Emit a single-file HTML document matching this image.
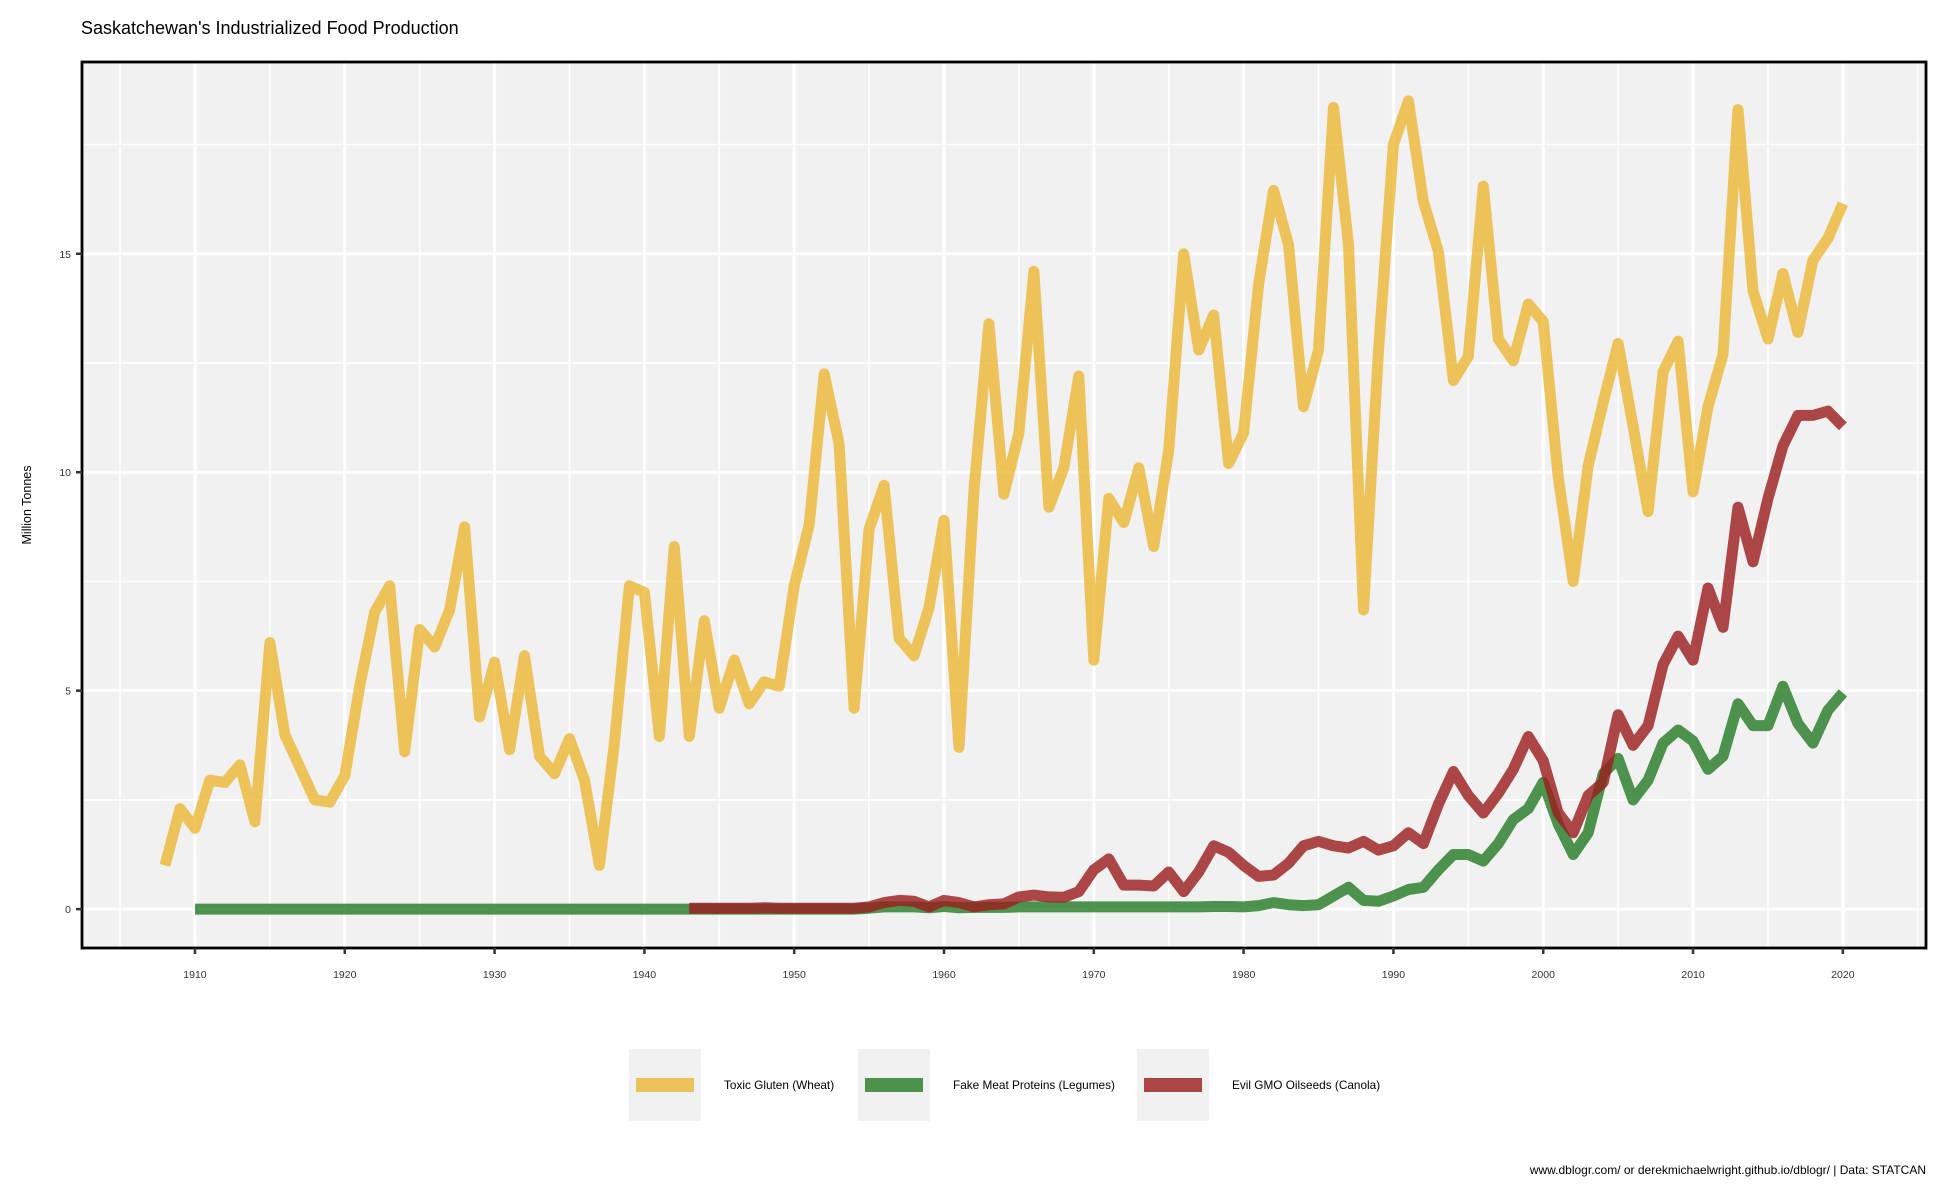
<!DOCTYPE html>
<html><head><meta charset="utf-8"><style>
html,body{margin:0;padding:0;background:#fff;}
svg{display:block;font-family:"Liberation Sans",sans-serif;}
.nar{font-family:"Liberation Sans Narrow","Liberation Sans",sans-serif;}
</style></head><body>
<svg id="chart" width="1950" height="1200" viewBox="0 0 1950 1200" xmlns="http://www.w3.org/2000/svg">
<text x="81" y="34" font-size="18" fill="#000">Saskatchewan's Industrialized Food Production</text>
<g id="plot"></g>
<text transform="translate(31,505) rotate(-90)" text-anchor="middle" font-size="12.5" fill="#000">Million Tonnes</text>
<g id="legend"></g>
<text class="nar" x="1926" y="1174" text-anchor="end" font-size="12" fill="#000">www.dblogr.com/ or derekmichaelwright.github.io/dblogr/ | Data: STATCAN</text>
</svg>
<script>
const years = [];
for (let y = 1908; y <= 2020; y++) years.push(y);
const wheat = [1.0,2.3,1.85,2.95,2.9,3.3,2.0,6.1,4.0,3.25,2.5,2.45,3.05,5.1,6.8,7.4,3.6,6.4,6.0,6.85,8.75,4.4,5.65,3.65,5.8,3.5,3.1,3.9,2.95,1.0,3.8,7.4,7.25,3.95,8.3,3.95,6.6,4.6,5.7,4.7,5.2,5.1,7.4,8.8,12.25,10.65,4.6,8.7,9.7,6.2,5.8,6.9,8.9,3.7,9.6,13.4,9.5,10.9,14.6,9.2,10.1,12.2,5.7,9.4,8.85,10.1,8.3,10.5,15.0,12.8,13.6,10.2,10.9,14.3,16.45,15.2,11.5,12.8,18.35,15.2,6.85,12.75,17.5,18.5,16.2,15.05,12.1,12.65,16.55,13.05,12.55,13.85,13.45,9.9,7.5,10.15,11.6,12.95,11.05,9.1,12.3,13.0,9.55,11.5,12.7,18.3,14.15,13.05,14.55,13.2,14.85,15.35,16.15];
const legumeYears = [];
for (let y = 1910; y <= 2020; y++) legumeYears.push(y);
const legumes = [0,0,0,0,0,0,0,0,0,0, 0,0,0,0,0,0,0,0,0,0, 0,0,0,0,0,0,0,0,0,0, 0,0,0,0,0,0,0,0,0,0, 0,0,0,0,0,0.02,0.05,0.05,0.05,0.03, 0.06,0.03,0.04,0.04,0.04,0.05,0.05,0.05,0.05,0.05, 0.05,0.05,0.05,0.05,0.05,0.05,0.05,0.05,0.06,0.06, 0.05,0.08,0.15,0.1,0.08,0.1,0.3,0.5,0.2,0.18, 0.3,0.45,0.5,0.9,1.25,1.25,1.1,1.5,2.05,2.3, 2.9,1.95,1.25,1.75,3.1,3.45,2.5,2.95,3.8,4.1, 3.85,3.2,3.5,4.7,4.2,4.2,5.1,4.25,3.8,4.55, 4.95];
const canolaYears = [];
for (let y = 1943; y <= 2020; y++) canolaYears.push(y);
const canola = [0.02,0.02,0.02,0.02,0.02,0.03,0.02,0.02,0.02,0.02,0.02,0.02,0.05,0.15,0.2,0.18,0.05,0.2,0.15,0.05,0.1,0.12,0.28,0.32,0.28,0.27,0.4,0.9,1.15,0.55,0.55,0.53,0.85,0.4,0.85,1.45,1.3,1.0,0.75,0.78,1.05,1.45,1.55,1.45,1.4,1.55,1.35,1.45,1.75,1.5,2.4,3.15,2.6,2.2,2.65,3.2,3.95,3.4,2.2,1.75,2.6,2.9,4.45,3.75,4.2,5.6,6.25,5.7,7.35,6.45,9.2,7.95,9.4,10.6,11.3,11.3,11.4,11.05];
const xTicks = [1910,1920,1930,1940,1950,1960,1970,1980,1990,2000,2010,2020];
const yTicks = [0,5,10,15];

const L=82,R=1926,T=62,B=948;
const xMin=1902.46,xMax=2025.55,yMin=-0.89,yMax=19.39;
const X=v=>L+(v-xMin)/(xMax-xMin)*(R-L);
const Y=v=>B-(v-yMin)/(yMax-yMin)*(B-T);
const NS="http://www.w3.org/2000/svg";
const plot=document.getElementById('plot');
function mk(tag,attrs,parent){const e=document.createElementNS(NS,tag);for(const k in attrs)e.setAttribute(k,attrs[k]);parent.appendChild(e);return e;}

const bg=mk('rect',{x:L,y:T,width:R-L,height:B-T,fill:'#f1f1f1'},plot);


for(let v=1905;v<=2025;v+=10){const g=mk('line',{x1:X(v),x2:X(v),y1:T,y2:B,stroke:'#fff','stroke-width':1.6},plot);

}
for(const v of [2.5,7.5,12.5,17.5]){const g=mk('line',{x1:L,x2:R,y1:Y(v),y2:Y(v),stroke:'#fff','stroke-width':1.6},plot);

}
for(const v of xTicks){const g=mk('line',{x1:X(v),x2:X(v),y1:T,y2:B,stroke:'#fff','stroke-width':3},plot);

}
for(const v of yTicks){const g=mk('line',{x1:L,x2:R,y1:Y(v),y2:Y(v),stroke:'#fff','stroke-width':3},plot);

}

function series(xs,vals,color,name){
  const d=xs.map((x,i)=>(i?'L':'M')+X(x).toFixed(1)+','+Y(vals[i]).toFixed(1)).join(' ');
  const p=mk('path',{d:d,fill:'none',stroke:color,'stroke-opacity':0.8,'stroke-width':11,'stroke-linejoin':'round'},plot);
  
  
}
series(years,wheat,'#ECB733','wheat-line');
series(legumeYears,legumes,'#237A23','legumes-line');
series(canolaYears,canola,'#9B1B1B','canola-line');

const border=mk('rect',{x:L,y:T,width:R-L,height:B-T,fill:'none',stroke:'#000','stroke-width':2.8},plot);



for(const v of xTicks){
  const t=mk('line',{x1:X(v),x2:X(v),y1:B,y2:B+6,stroke:'#333','stroke-width':2.5},plot);
  
  
  const lb=mk('text',{x:X(v),y:978,'text-anchor':'middle','font-size':10.5,fill:'#333'},plot);
  lb.textContent=v;
  
  
}
for(const v of yTicks){
  const t=mk('line',{x1:L-6,x2:L,y1:Y(v),y2:Y(v),stroke:'#333','stroke-width':2.5},plot);
  
  
  const lb=mk('text',{x:L-11,y:Y(v)+4,'text-anchor':'end','font-size':10.5,fill:'#333'},plot);
  lb.textContent=v;
  
  
}

const leg=document.getElementById('legend');
const legendLabels=['Toxic Gluten (Wheat)','Fake Meat Proteins (Legumes)','Evil GMO Oilseeds (Canola)'];
const legendColors=['#ECB733','#237A23','#9B1B1B'];
const boxX=[629,858,1137];
legendLabels.forEach((lab,i)=>{
  const g=mk('g',{},leg);
  
  
  mk('rect',{x:boxX[i],y:1049,width:72,height:72,fill:'#f1f1f1'},g);
  mk('rect',{x:boxX[i]+7,y:1078,width:58,height:14,fill:legendColors[i],'fill-opacity':0.8},g);
  const t=mk('text',{x:boxX[i]+95,y:1089,'font-size':11.8,fill:'#000',class:'nar'},g);
  t.textContent=lab;
});
</script>
</body></html>
